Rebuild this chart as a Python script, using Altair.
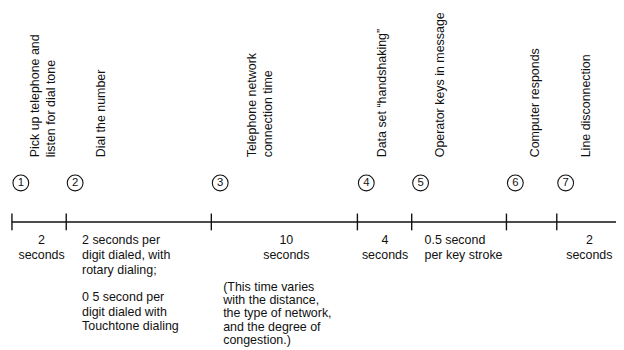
import altair as alt
import pandas as pd

# ---- content ----
event_numbers = ["1", "2", "3", "4", "5", "6", "7"]
event_positions = [4, 59, 206, 354, 409, 505, 556]
timeline_end = 616

event_labels = [
    "Pick up telephone and\nlisten for dial tone",
    "Dial the number",
    "Telephone network\nconnection time",
    "Data set \u201chandshaking\u201d",
    "Operator keys in message",
    "Computer responds",
    "Line disconnection",
]
label_positions = [27.5, 94, 247, 379, 438, 534, 586]

duration_texts = ["2\nseconds", "10\nseconds", "4\nseconds", "2\nseconds"]
duration_positions = [34, 282, 382, 589]

note_texts = [
    "2 seconds per\ndigit dialed, with\nrotary dialing;",
    "0.5 second\nper key stroke",
]
note_positions = [75, 422]

touchtone_text = ["0 5 second per\ndigit dialed with\nTouchtone dialing"]
touchtone_positions = [75]

variation_text = ["(This time varies\nwith the distance,\nthe type of network,\nand the degree of\ncongestion.)"]
variation_positions = [218]

W, H = 616, 342
FONT = "Liberation Sans"
INK = "#111111"
FS = 12.6

xs = alt.Scale(domain=[0, W], nice=False, zero=False)

def X(field):
    return alt.X(f"{field}:Q", scale=xs, axis=None)

events = pd.DataFrame({"num": event_numbers, "pos": event_positions})
line_df = pd.DataFrame({"start": [event_positions[0]], "end": [timeline_end]})
labels = pd.DataFrame({"text": event_labels, "pos": label_positions})
durations = pd.DataFrame({"text": duration_texts, "pos": duration_positions})
notes = pd.DataFrame({"text": note_texts, "pos": note_positions})
touch = pd.DataFrame({"text": touchtone_text, "pos": touchtone_positions})
vary = pd.DataFrame({"text": variation_text, "pos": variation_positions})

base_line = alt.Chart(line_df).mark_rule(color=INK, strokeWidth=1.4).encode(
    x=X("start"), x2="end:Q", y=alt.value(214.5)
)

ticks = alt.Chart(events).mark_rule(color=INK, strokeWidth=1.4).encode(
    x=X("pos"), y=alt.value(206), y2=alt.value(223)
)

circles = alt.Chart(events).transform_calculate(cx="datum.pos + 9").mark_point(
    shape="circle", filled=False, size=256, color=INK, strokeWidth=1.1, opacity=1
).encode(x=X("cx"), y=alt.value(175))

numbers = alt.Chart(events).transform_calculate(cx="datum.pos + 9").mark_text(
    font=FONT, fontSize=11.5, color=INK, align="center", baseline="middle", dy=0.5
).encode(x=X("cx"), y=alt.value(175), text="num:N")

rot_labels = alt.Chart(labels).mark_text(
    font=FONT, fontSize=FS, color=INK, angle=270, align="left",
    baseline="middle", lineBreak="\n", lineHeight=16.5
).encode(x=X("pos"), y=alt.value(149), text="text:N")

dur = alt.Chart(durations).mark_text(
    font=FONT, fontSize=FS, color=INK, align="center", baseline="alphabetic",
    lineBreak="\n", lineHeight=15
).encode(x=X("pos"), y=alt.value(237), text="text:N")

note = alt.Chart(notes).mark_text(
    font=FONT, fontSize=FS, color=INK, align="left", baseline="alphabetic",
    lineBreak="\n", lineHeight=15
).encode(x=X("pos"), y=alt.value(237), text="text:N")

touch_t = alt.Chart(touch).mark_text(
    font=FONT, fontSize=FS, color=INK, align="left", baseline="alphabetic",
    lineBreak="\n", lineHeight=14.5
).encode(x=X("pos"), y=alt.value(295), text="text:N")

vary_t = alt.Chart(vary).mark_text(
    font=FONT, fontSize=FS, color=INK, align="left", baseline="alphabetic",
    lineBreak="\n", lineHeight=13.5
).encode(x=X("pos"), y=alt.value(284), text="text:N")

chart = alt.layer(
    base_line, ticks, circles, numbers, rot_labels, dur, note, touch_t, vary_t
).properties(
    width=W, height=H, padding=0, background="white",
    autosize=alt.AutoSizeParams(type="none")
).configure_view(stroke=None)

chart.save("out.html", embed_options={"renderer": "svg", "actions": False})
